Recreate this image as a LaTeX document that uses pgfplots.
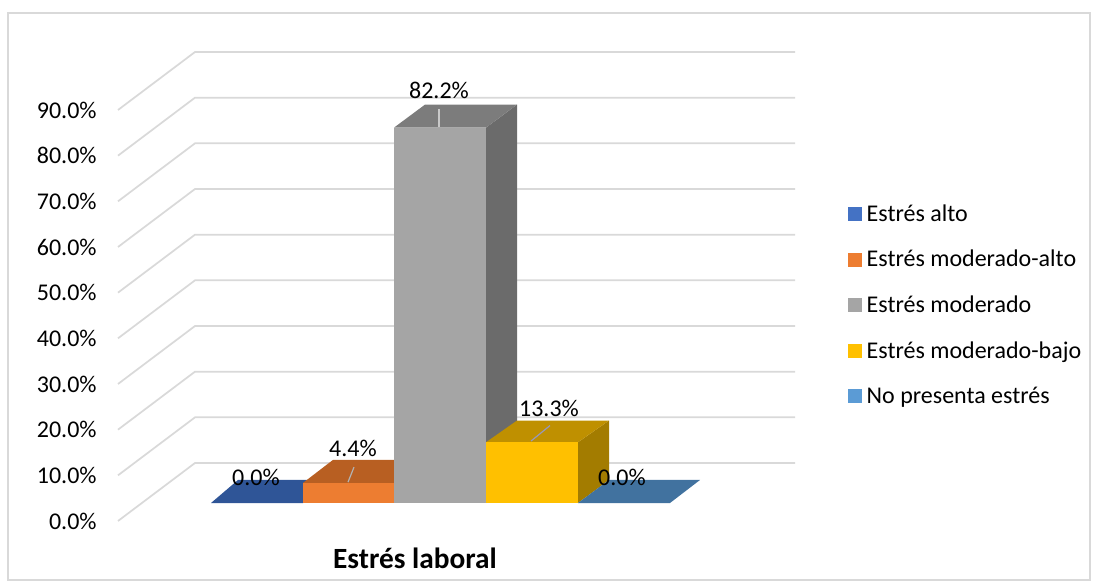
\documentclass[border=0pt]{standalone}
\usepackage{fontspec}
\setmainfont{Carlito}
\usepackage{pgfplots}
\pgfplotsset{compat=1.18}
\definecolor{gridc}{HTML}{D9D9D9}
\definecolor{c1}{HTML}{4472C4}
\definecolor{c1t}{HTML}{2F5597}
\definecolor{c2}{HTML}{ED7D31}
\definecolor{c2t}{HTML}{B85F22}
\definecolor{c3}{HTML}{A5A5A5}
\definecolor{c3t}{HTML}{7C7C7C}
\definecolor{c3s}{HTML}{6B6B6B}
\definecolor{c4}{HTML}{FFC000}
\definecolor{c4t}{HTML}{BF9000}
\definecolor{c4s}{HTML}{A37C00}
\definecolor{c5}{HTML}{5B9BD5}
\definecolor{c5t}{HTML}{41729F}
\newcommand{\lab}{\fontsize{18}{21}\selectfont}
\begin{document}
\begin{tikzpicture}
% page = 1096x588 px at 0.75pt per px; axis origin sits at px (118,521)
\path[use as bounding box] (-88.5pt,-50.25pt) rectangle (733.5pt,390.75pt);
\draw[gridc,line width=1.3pt] (-82.5pt,-44.25pt) rectangle (729pt,381pt);
\begin{axis}[
    at={(0,0)},
    anchor=south west,
    scale only axis,
    x=0.75pt,
    y=3.425pt,
    xmin=118, xmax=795,
    ymin=0, ymax=90,
    clip=false,
    axis line style={draw=none},
    tick style={draw=none},
    xtick=\empty,
    ytick={0,10,20,30,40,50,60,70,80,90},
    yticklabels={0.0\%,10.0\%,20.0\%,30.0\%,40.0\%,50.0\%,60.0\%,70.0\%,80.0\%,90.0\%},
    tick label style={font=\lab},
    yticklabel style={xshift=-12.5pt},
    legend style={draw=none,fill=none,font=\lab,at={(axis cs:848,47.3)},anchor=west,
        inner sep=0pt,outer sep=0pt,row sep=16.2pt,cells={anchor=west}},
    legend image code/.code={\path[#1,draw=none] (0pt,-5.25pt) rectangle (10.5pt,5.25pt);
        \path[draw=none,fill=none] (0pt,0pt) -- (12pt,0pt);},
]
% walls
\addplot[gridc,line width=1.3pt,forget plot] coordinates {(118,0) (195,12.7) (795,12.7)};
\addplot[gridc,line width=1.3pt,forget plot] coordinates {(118,10) (195,22.7) (795,22.7)};
\addplot[gridc,line width=1.3pt,forget plot] coordinates {(118,20) (195,32.7) (795,32.7)};
\addplot[gridc,line width=1.3pt,forget plot] coordinates {(118,30) (195,42.7) (795,42.7)};
\addplot[gridc,line width=1.3pt,forget plot] coordinates {(118,40) (195,52.7) (795,52.7)};
\addplot[gridc,line width=1.3pt,forget plot] coordinates {(118,50) (195,62.7) (795,62.7)};
\addplot[gridc,line width=1.3pt,forget plot] coordinates {(118,60) (195,72.7) (795,72.7)};
\addplot[gridc,line width=1.3pt,forget plot] coordinates {(118,70) (195,82.7) (795,82.7)};
\addplot[gridc,line width=1.3pt,forget plot] coordinates {(118,80) (195,92.7) (795,92.7)};
\addplot[gridc,line width=1.3pt,forget plot] coordinates {(118,90) (195,102.7) (795,102.7)};
% Estres alto 0.0
\addplot[fill=c1t,draw=none,forget plot] coordinates {(211,3.94) (303,3.94) (333,8.98) (238,8.98)} -- cycle;
% Estres moderado-alto 4.4
\addplot[fill=c2t,draw=none,forget plot] coordinates {(303,8.34) (394,8.34) (425,13.38) (333,13.38)} -- cycle;
\addplot[fill=c2,draw=none,forget plot] coordinates {(303,3.94) (394,3.94) (394,8.34) (303,8.34)} -- cycle;
% Estres moderado 82.2
\addplot[fill=c3s,draw=none,forget plot] coordinates {(486,3.94) (517,8.98) (517,91.18) (486,86.14)} -- cycle;
\addplot[fill=c3t,draw=none,forget plot] coordinates {(394,86.14) (486,86.14) (517,91.18) (425,91.18)} -- cycle;
\addplot[fill=c3,draw=none,forget plot] coordinates {(394,3.94) (486,3.94) (486,86.14) (394,86.14)} -- cycle;
% Estres moderado-bajo 13.3
\addplot[fill=c4s,draw=none,forget plot] coordinates {(578,3.94) (609,8.98) (609,22.0) (578,17.24)} -- cycle;
\addplot[fill=c4t,draw=none,forget plot] coordinates {(486,17.24) (578,17.24) (609,22.0) (517,22.0)} -- cycle;
\addplot[fill=c4,draw=none,forget plot] coordinates {(486,3.94) (578,3.94) (578,17.24) (486,17.24)} -- cycle;
% No presenta estres 0.0
\addplot[fill=c5t,draw=none,forget plot] coordinates {(578,3.94) (670,3.94) (700,8.98) (609,8.98)} -- cycle;
% leader lines
\addplot[c3!60!white,line width=1pt,forget plot] coordinates {(439,86.3) (439,90.2)};
\addplot[c3!85!white,line width=0.9pt,forget plot] coordinates {(348,8.5) (354,11.8)};
\addplot[c3!85!blue!90!white,line width=0.9pt,forget plot] coordinates {(531,17.5) (550,20.9)};
% data labels
\node[font=\lab] at (axis cs:256,9.6) {0.0\%};
\node[font=\lab] at (axis cs:353,15.8) {4.4\%};
\node[font=\lab] at (axis cs:439,94.2) {82.2\%};
\node[font=\lab] at (axis cs:549,24.7) {13.3\%};
\node[font=\lab] at (axis cs:622,9.6) {0.0\%};
\node[font=\bfseries\fontsize{22}{26}\selectfont] at (axis cs:415,-8.1) {Estrés laboral};
% legend
\addlegendimage{fill=c1,draw=none}
\addlegendimage{fill=c2,draw=none}
\addlegendimage{fill=c3,draw=none}
\addlegendimage{fill=c4,draw=none}
\addlegendimage{fill=c5,draw=none}
\legend{Estrés alto,Estrés moderado-alto,Estrés moderado,Estrés moderado-bajo,No presenta estrés}
\end{axis}
\end{tikzpicture}
\end{document}
